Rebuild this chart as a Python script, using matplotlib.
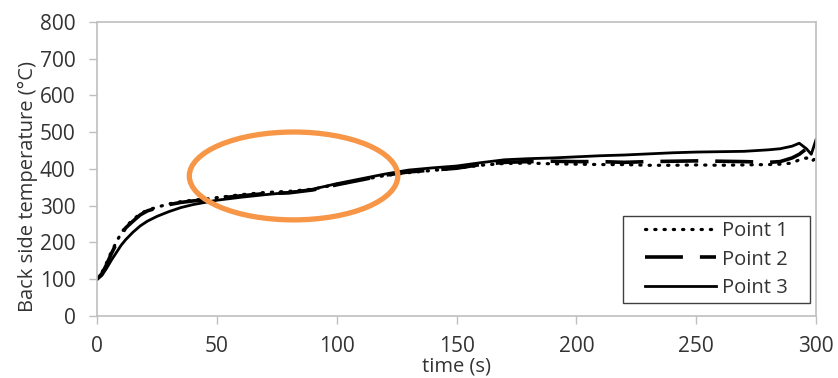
import matplotlib
matplotlib.use("Agg")
import matplotlib.pyplot as plt
from matplotlib.patches import Ellipse, Rectangle

# time grid (s) shared by the three thermocouple traces
time_s = [0, 2, 4, 6, 8, 10, 12, 15, 18, 21, 25, 30, 35, 40, 45, 50, 60, 70, 80,
          90, 100, 110, 120, 130, 140, 150, 160, 170, 180, 190, 200, 210, 220,
          230, 240, 250, 260, 270, 280, 285, 290, 293, 296, 298, 300]

point1 = [100, 118, 145, 175, 200, 225, 243, 262, 278, 288, 296, 305, 311, 315,
          318, 322, 330, 336, 339, 345, 358, 370, 382, 390, 396, 402, 410, 415,
          416, 414, 413, 412, 412, 410, 410, 411, 410, 411, 412, 413, 416, 425,
          430, 420, 430]

point2 = [100, 115, 140, 170, 196, 220, 240, 258, 275, 286, 294, 303, 309, 313,
          316, 320, 327, 333, 335, 343, 357, 370, 383, 392, 397, 402, 412, 418,
          420, 421, 420, 420, 418, 420, 421, 422, 421, 420, 418, 420, 430, 440,
          455, 445, 425]

point3 = [100, 110, 130, 152, 172, 192, 208, 228, 245, 258, 271, 284, 295, 303,
          309, 315, 323, 330, 336, 345, 360, 373, 386, 397, 403, 408, 417, 425,
          428, 430, 433, 436, 438, 441, 444, 446, 447, 448, 452, 455, 462, 470,
          455, 440, 480]

series_labels = ["Point 1", "Point 2", "Point 3"]
x_ticks = [0, 50, 100, 150, 200, 250, 300]
y_ticks = [0, 100, 200, 300, 400, 500, 600, 700, 800]

# highlighted region (centre x, centre y, width, height) in data units
highlight = (82, 381, 87, 239)

plt.rcParams["font.family"] = ["Open Sans", "DejaVu Sans"]
text_color = "#333333"

figure = plt.figure(figsize=(8.38, 3.78), dpi=100)
ax = figure.add_axes([0.1158, 0.164, 0.858, 0.778])

ax.plot(time_s, point1, color="black", linewidth=2.3,
        linestyle=(0, (0.4, 2.5)), dash_capstyle="round", label=series_labels[0])
ax.plot(time_s, point2, color="black", linewidth=2.6,
        linestyle=(0, (10.5, 4.7)), label=series_labels[1])
ax.plot(time_s, point3, color="black", linewidth=2.0, label=series_labels[2])

ax.add_patch(Ellipse(highlight[:2], highlight[2], highlight[3], fill=False,
                     edgecolor="#F79646", linewidth=3.8, zorder=5))

ax.set_xlim(0, 300)
ax.set_ylim(0, 800)
ax.set_xticks(x_ticks)
ax.set_yticks(y_ticks)
ax.tick_params(axis="both", direction="out", length=5.5, width=1,
               color="#BFBFBF", labelsize=15, labelcolor=text_color)
ax.tick_params(axis="y", pad=10)
ax.tick_params(axis="x", pad=9)
for spine in ax.spines.values():
    spine.set_color("#BFBFBF")
    spine.set_linewidth(1.2)

ax.set_xlabel("time (s)", fontsize=14.5, color=text_color)
ax.xaxis.set_label_coords(0.5, -0.171)
ax.xaxis.label.set_va("center")
ax.set_ylabel("Back side temperature (°C)", fontsize=14.5, color=text_color)
ax.yaxis.set_label_coords(-0.096, 0.442)
ax.yaxis.label.set_va("center")

# legend box drawn separately so its padding can be wider than tall
legend_box = (0.7316, 0.0442, 0.2601, 0.2958)
ax.add_patch(Rectangle(legend_box[:2], legend_box[2], legend_box[3],
                       transform=ax.transAxes, facecolor="white",
                       edgecolor="#404040", linewidth=1.0, zorder=6))
legend = ax.legend(loc="center", bbox_to_anchor=legend_box, borderaxespad=0,
                   frameon=False, fontsize=14.5, handlelength=3.5,
                   handletextpad=0.3, labelspacing=0.4, borderpad=0.1)
legend.set_zorder(7)
for text in legend.get_texts():
    text.set_color(text_color)

figure.savefig("out.png", dpi=100)
